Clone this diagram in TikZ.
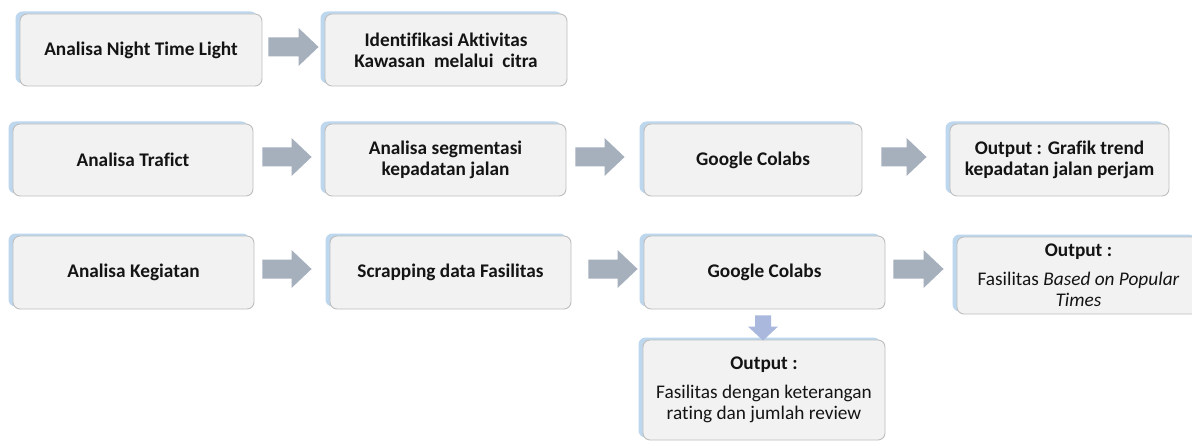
\documentclass[tikz,border=0pt]{standalone}
\usepackage{fontspec}
\setmainfont{Carlito}[Ligatures=CommonOff]
\usetikzlibrary{calc,shadows}

\definecolor{boxfill}{HTML}{F2F2F2}
\definecolor{boxline}{HTML}{BEBEBE}
\definecolor{shblue}{HTML}{BDD7EE}
\definecolor{arrgray}{HTML}{A6B0BD}
\definecolor{arrblue}{HTML}{AAB8DE}

\tikzset{
  box/.style={rectangle, rounded corners=7pt, fill=boxfill, draw=boxline,
    line width=0.9pt, inner sep=0pt, align=center,
    font=\fontsize{19.3}{21}\selectfont\bfseries, text=black!92,
    general shadow={shadow xshift=-4.5pt, shadow yshift=2.5pt, fill=shblue}},
  % horizontal block arrow: body 19 high, head 38 high and 20 long
  blockarrow/.style={to path={
    let \p1=(\tikztostart), \p2=(\tikztotarget) in
    (\x1,\y1+9.5pt) -- (\x2-20pt,\y1+9.5pt) -- (\x2-20pt,\y1+19pt) -- (\x2,\y1)
    -- (\x2-20pt,\y1-19pt) -- (\x2-20pt,\y1-9.5pt) -- (\x1,\y1-9.5pt) -- cycle}},
  % downward block arrow: body 16 wide, head 30 wide and 14 long
  blockdown/.style={to path={
    let \p1=(\tikztostart), \p2=(\tikztotarget) in
    (\x1-8pt,\y1) -- (\x1-8pt,\y2+14pt) -- (\x1-15pt,\y2+14pt) -- (\x1,\y2)
    -- (\x1+15pt,\y2+14pt) -- (\x1+8pt,\y2+14pt) -- (\x1+8pt,\y1) -- cycle}}
}

\begin{document}
\begin{tikzpicture}[x=1pt,y=-1pt]
\clip (0,0) rectangle (1192,441);
\fill[white] (0,0) rectangle (1192,441);

% row 1: night time light
\node[box, minimum width=242pt, minimum height=72pt] (A1) at (141,50) {Analisa Night Time Light};
\node[box, minimum width=242pt, minimum height=72pt] (A2) at (446,50) {Identifikasi Aktivitas\\Kawasan\ \ melalui\ \ citra};

% row 2: traffic
\node[box, minimum width=240pt, minimum height=72pt] (B1) at (133,160) {Analisa Trafict};
\node[box, minimum width=241pt, minimum height=72pt] (B2) at (445.5,160) {Analisa segmentasi\\kepadatan jalan};
\node[box, minimum width=218pt, minimum height=72pt] (B3) at (753,160) {Google Colabs};
\node[box, minimum width=219pt, minimum height=72pt] (B4) at (1059.5,160) {Output : Grafik trend\\kepadatan jalan perjam};

% row 3: activities
\node[box, minimum width=241pt, minimum height=73pt] (C1) at (133.5,272.5) {Analisa Kegiatan};
\node[box, minimum width=241pt, minimum height=73pt] (C2) at (450.5,272.5) {Scrapping data Fasilitas};
\node[box, minimum width=241pt, minimum height=73pt] (C3) at (764.5,272.5) {Google Colabs};
\node[box, minimum width=243pt, minimum height=77pt] (C4) at (1078.5,275.5)
  {Output :\\[8pt]{\mdseries Fasilitas \textit{Based on Popular}}\\{\mdseries\textit{Times}}};
\node[box, minimum width=242pt, minimum height=100pt] (D) at (764,390)
  {Output :\\[8pt]{\mdseries Fasilitas dengan keterangan}\\{\mdseries rating dan jumlah review}};

% arrow end points
\coordinate (a1s) at ([xshift=6pt,yshift=3pt]A1.east);
\coordinate (a1e) at ([xshift=-6pt,yshift=3pt]A2.west);
\coordinate (b1s) at ([xshift=9pt,yshift=3pt]B1.east);
\coordinate (b1e) at ([xshift=-13pt,yshift=3pt]B2.west);
\coordinate (b2s) at ([xshift=9pt,yshift=3pt]B2.east);
\coordinate (b2e) at ([xshift=-19pt,yshift=3pt]B3.west);
\coordinate (b3s) at ([xshift=19pt,yshift=3pt]B3.east);
\coordinate (b3e) at ([xshift=-23pt,yshift=3pt]B4.west);
\coordinate (c1s) at ([xshift=8pt,yshift=3.5pt]C1.east);
\coordinate (c1e) at ([xshift=-18pt,yshift=3.5pt]C2.west);
\coordinate (c2s) at ([xshift=17pt,yshift=3.5pt]C2.east);
\coordinate (c2e) at ([xshift=-6pt,yshift=3.5pt]C3.west);
\coordinate (c3s) at ([xshift=8pt,yshift=3.5pt]C3.east);
\coordinate (c3e) at ([xshift=-13pt,yshift=6.5pt]C4.west);
\coordinate (ds) at ([xshift=-1.5pt,yshift=-6pt]C3.south);
\coordinate (de) at ([xshift=-1pt,yshift=-1pt]D.north);

% block arrows
\fill[arrgray] (a1s) to[blockarrow] (a1e);
\fill[arrgray] (b1s) to[blockarrow] (b1e);
\fill[arrgray] (b2s) to[blockarrow] (b2e);
\fill[arrgray] (b3s) to[blockarrow] (b3e);
\fill[arrgray] (c1s) to[blockarrow] (c1e);
\fill[arrgray] (c2s) to[blockarrow] (c2e);
\fill[arrgray] (c3s) to[blockarrow] (c3e);
\fill[arrblue] (ds) to[blockdown] (de);
\end{tikzpicture}
\end{document}
